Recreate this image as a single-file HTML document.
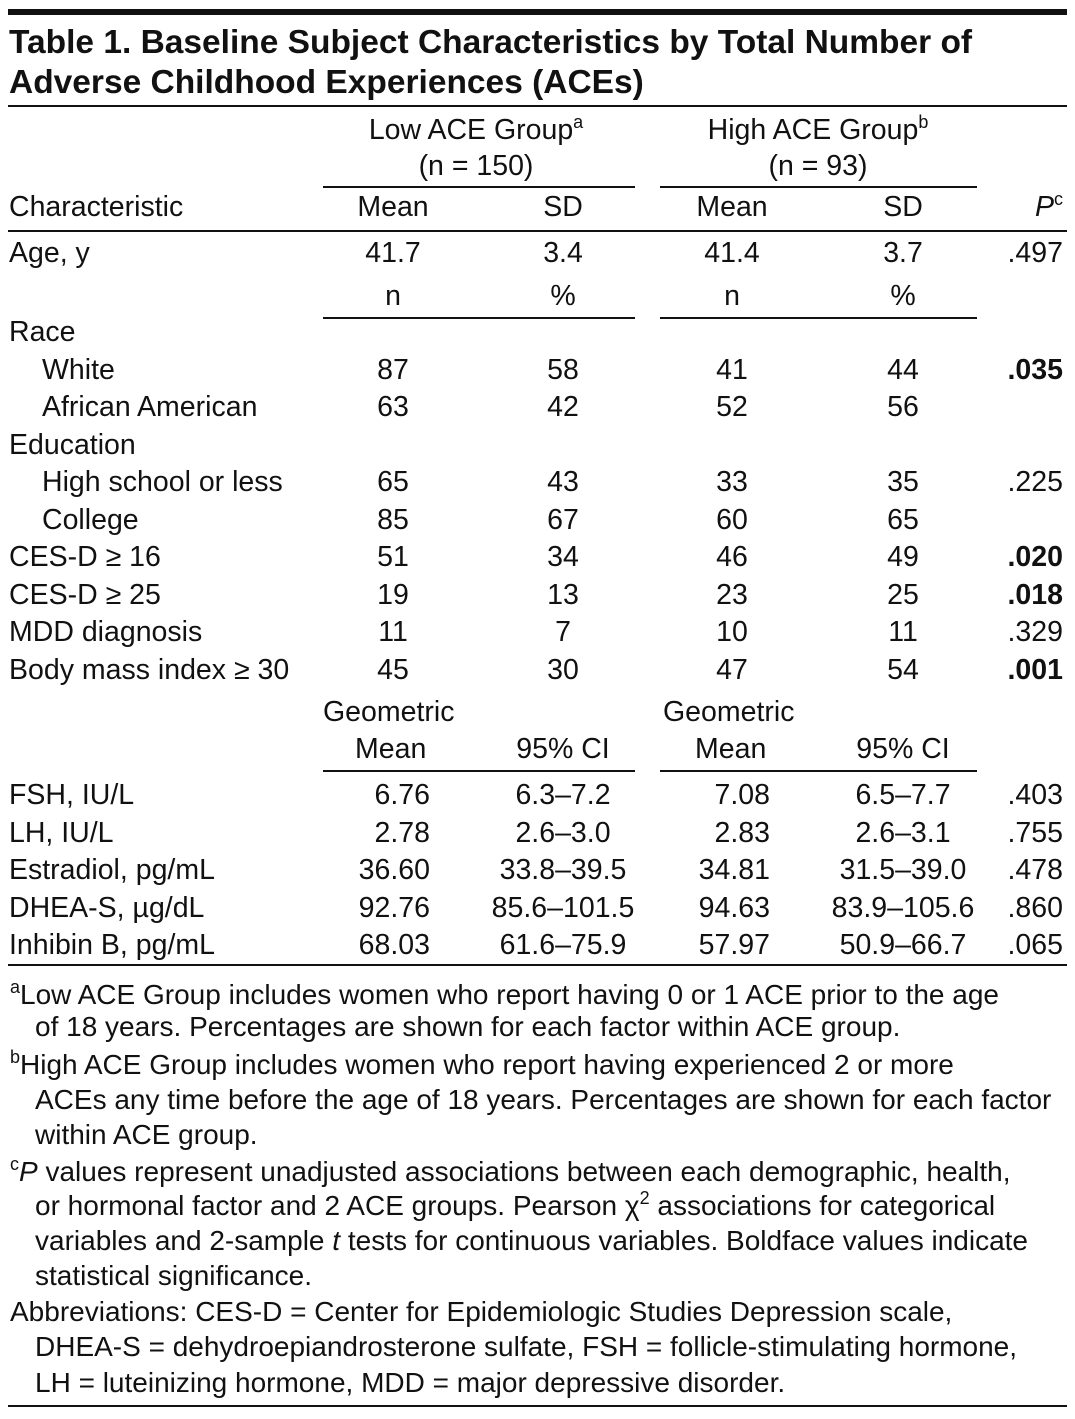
<!DOCTYPE html>
<html><head><meta charset="utf-8">
<style>
body{margin:0;width:1075px;height:1419px;background:#fff;position:relative;overflow:hidden;font-family:"Liberation Sans",sans-serif;color:#111}
.t{position:absolute;white-space:nowrap;font-size:28.5px;line-height:30px}
.c{transform:translateX(-50%)}
.r{transform:translateX(-100%)}
.b{font-weight:bold}
.ln{position:absolute;background:#111}
.f{position:absolute;white-space:nowrap;font-size:28px;line-height:30px;left:10px}
sup{font-size:18px;vertical-align:11px;line-height:0}
</style></head><body>
<div class="ln" style="left:8px;top:9px;width:1059px;height:6px"></div>
<div class="t b" style="left:9px;top:23px;font-size:33.5px;line-height:40px">Table 1. Baseline Subject Characteristics by Total Number of<br>Adverse Childhood Experiences (ACEs)</div>
<div class="ln" style="left:8px;top:105px;width:1059px;height:2px"></div>

<div class="t c" style="left:476px;top:115px">Low ACE Group<sup>a</sup><br><span style="display:block;text-align:center;margin-top:6px">(n = 150)</span></div>
<div class="t c" style="left:818px;top:115px">High ACE Group<sup>b</sup><br><span style="display:block;text-align:center;margin-top:6px">(n = 93)</span></div>
<div class="ln" style="left:323px;top:186px;width:312px;height:2px"></div>
<div class="ln" style="left:660px;top:186px;width:317px;height:2px"></div>

<div class="t" style="left:9px;top:192px">Characteristic</div>
<div class="t c" style="left:393px;top:192px">Mean</div>
<div class="t c" style="left:563px;top:192px">SD</div>
<div class="t c" style="left:732px;top:192px">Mean</div>
<div class="t c" style="left:903px;top:192px">SD</div>
<div class="t r" style="left:1063px;top:192px"><i>P</i><sup>c</sup></div>
<div class="ln" style="left:8px;top:230px;width:1059px;height:2px"></div>

<div>
<div class="t" style="left:9px;top:238px">Age, y</div>
<div class="t c" style="left:393px;top:238px">41.7</div>
<div class="t c" style="left:563px;top:238px">3.4</div>
<div class="t c" style="left:732px;top:238px">41.4</div>
<div class="t c" style="left:903px;top:238px">3.7</div>
<div class="t r" style="left:1063px;top:238px">.497</div>
</div>
<div class="t c" style="left:393px;top:281px">n</div>
<div class="t c" style="left:563px;top:281px">%</div>
<div class="t c" style="left:732px;top:281px">n</div>
<div class="t c" style="left:903px;top:281px">%</div>
<div class="ln" style="left:323px;top:317px;width:312px;height:2px"></div>
<div class="ln" style="left:660px;top:317px;width:317px;height:2px"></div>

<div id="rows"></div>

<div class="t" style="left:323px;top:697px">Geometric<br><span style="display:block;margin-top:7px;padding-left:32px">Mean</span></div>
<div class="t c" style="left:563px;top:734px">95% CI</div>
<div class="t" style="left:663px;top:697px">Geometric<br><span style="display:block;margin-top:7px;padding-left:32px">Mean</span></div>
<div class="t c" style="left:903px;top:734px">95% CI</div>
<div class="ln" style="left:323px;top:770px;width:312px;height:2px"></div>
<div class="ln" style="left:660px;top:770px;width:317px;height:2px"></div>

<div id="hrows"></div>
<div class="ln" style="left:8px;top:964px;width:1059px;height:2px"></div>

<div>
<div class="f" style="top:980px"><sup>a</sup>Low ACE Group includes women who report having 0 or 1 ACE prior to the age</div>
<div class="f" style="top:1012px;left:35px">of 18 years. Percentages are shown for each factor within ACE group.</div>
<div class="f" style="top:1050px"><sup>b</sup>High ACE Group includes women who report having experienced 2 or more</div>
<div class="f" style="top:1085px;left:35px">ACEs any time before the age of 18 years. Percentages are shown for each factor</div>
<div class="f" style="top:1120px;left:35px">within ACE group.</div>
<div class="f" style="top:1157px"><sup>c</sup><i>P</i> values represent unadjusted associations between each demographic, health,</div>
<div class="f" style="top:1191px;left:35px">or hormonal factor and 2 ACE groups. Pearson χ<sup>2</sup> associations for categorical</div>
<div class="f" style="top:1226px;left:35px">variables and 2-sample <i>t</i> tests for continuous variables. Boldface values indicate</div>
<div class="f" style="top:1261px;left:35px">statistical significance.</div>
<div class="f" style="top:1297px">Abbreviations: CES-D = Center for Epidemiologic Studies Depression scale,</div>
<div class="f" style="top:1332px;left:35px">DHEA-S = dehydroepiandrosterone sulfate, FSH = follicle-stimulating hormone,</div>
<div class="f" style="top:1368px;left:35px">LH = luteinizing hormone, MDD = major depressive disorder.</div>
</div>
<div class="ln" style="left:8px;top:1405px;width:1059px;height:2px"></div>

<script>
const catLabels=["Race","White","African American","Education","High school or less","College","CES-D ≥ 16","CES-D ≥ 25","MDD diagnosis","Body mass index ≥ 30"];
const catIndent=[0,1,1,0,1,1,0,0,0,0];
const lowN=["","87","63","","65","85","51","19","11","45"];
const lowPct=["","58","42","","43","67","34","13","7","30"];
const highN=["","41","52","","33","60","46","23","10","47"];
const highPct=["","44","56","","35","65","49","25","11","54"];
const catP=["",".035","","",".225","",".020",".018",".329",".001"];
const catBold=[0,1,0,0,0,0,1,1,0,1];
const hormLabels=["FSH, IU/L","LH, IU/L","Estradiol, pg/mL","DHEA-S, µg/dL","Inhibin B, pg/mL"];
const lowGM=["6.76","2.78","36.60","92.76","68.03"];
const lowCI=["6.3–7.2","2.6–3.0","33.8–39.5","85.6–101.5","61.6–75.9"];
const highGM=["7.08","2.83","34.81","94.63","57.97"];
const highCI=["6.5–7.7","2.6–3.1","31.5–39.0","83.9–105.6","50.9–66.7"];
const hormP=[".403",".755",".478",".860",".065"];

function cell(parent,txt,x,y,cls,name){
  const d=document.createElement('div');
  d.className='t '+cls;
  d.style.left=x+'px';d.style.top=y+'px';
  d.textContent=txt;
  
  
  parent.appendChild(d);
}
const rows=document.getElementById('rows');
catLabels.forEach((lab,i)=>{
  const g=document.createElement('div');
  
  
  rows.appendChild(g);
  const y=317+i*37.5;
  cell(g,lab,catIndent[i]?42:9,y,'','row-label');
  cell(g,lowN[i],393,y,'c','low-n');
  cell(g,lowPct[i],563,y,'c','low-pct');
  cell(g,highN[i],732,y,'c','high-n');
  cell(g,highPct[i],903,y,'c','high-pct');
  cell(g,catP[i],1063,y,'r'+(catBold[i]?' b':''),'p-value');
});
const hrows=document.getElementById('hrows');
hormLabels.forEach((lab,i)=>{
  const g=document.createElement('div');
  
  
  hrows.appendChild(g);
  const y=780+i*37.5;
  cell(g,lab,9,y,'','row-label');
  cell(g,lowGM[i],430,y,'r','low-geo-mean');
  cell(g,lowCI[i],563,y,'c','low-ci');
  cell(g,highGM[i],770,y,'r','high-geo-mean');
  cell(g,highCI[i],903,y,'c','high-ci');
  cell(g,hormP[i],1063,y,'r','p-value');
});
</script>
</body></html>
